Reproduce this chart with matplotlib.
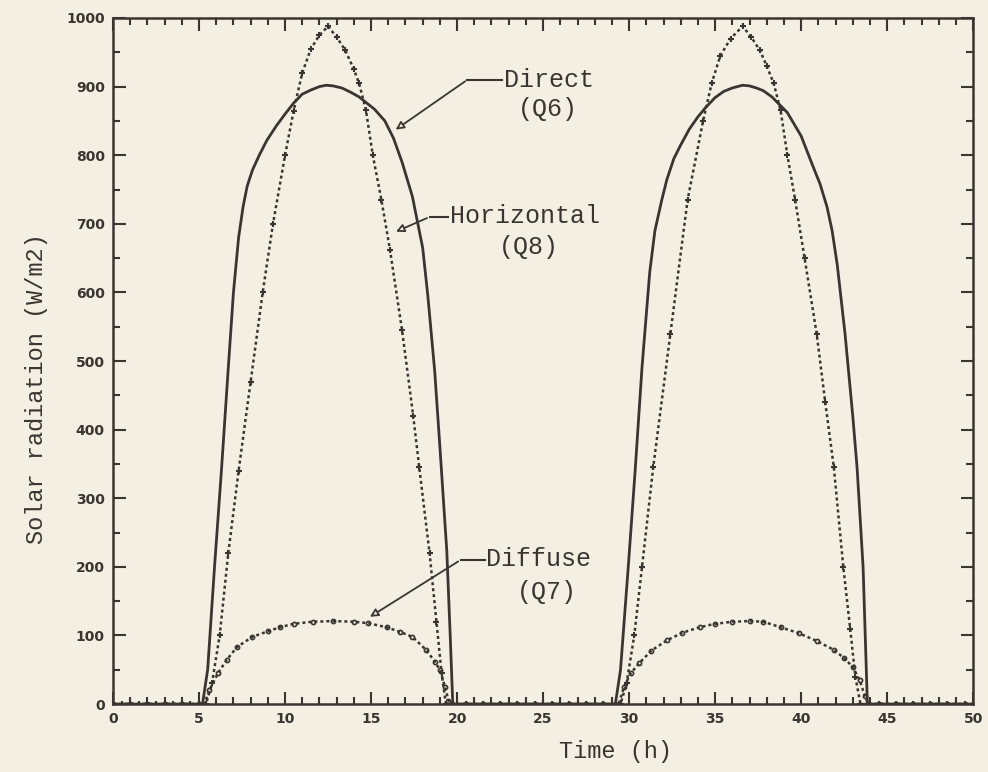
import matplotlib
matplotlib.use("Agg")
import matplotlib.pyplot as plt
from matplotlib.ticker import MultipleLocator

# Direct (Q6) - solid line
t_direct = [0, 5.2, 5.5, 5.9, 6.3, 6.7, 7.0, 7.3, 7.56, 7.8, 8.1, 8.5, 8.95, 9.5, 10.0, 10.5, 11.0,
            11.5, 12.0, 12.4, 12.8, 13.3, 13.8, 14.3, 15.2, 15.8, 16.3, 16.8, 17.4, 18.0, 18.3,
            18.7, 19.0, 19.4, 19.6, 19.75,
            29.2, 29.5, 29.95, 30.35, 30.75, 31.2, 31.5, 31.9, 32.2, 32.6, 33.0, 33.5, 34.0, 34.5,
            35.0, 35.5, 36.0, 36.6, 37.0, 37.4, 37.8, 38.3, 39.2, 40.0, 40.7, 41.1, 41.5, 41.8,
            42.1, 42.55, 43.0, 43.25, 43.6, 43.75, 43.85, 50]
q6_direct = [0, 0, 50, 200, 340, 490, 600, 680, 725, 755, 778, 800, 822, 843, 860, 876, 889,
             895, 900, 902, 901, 898, 892, 885, 867, 850, 825, 790, 740, 665, 595,
             485, 375, 224, 100, 0,
             0, 50, 200, 340, 491, 630, 690, 735, 765, 795, 815, 838, 856, 871,
             884, 893, 898, 902, 901, 898, 894, 885, 862, 828, 783, 758, 725, 690,
             640, 540, 420, 345, 200, 80, 0, 0]

# Horizontal (Q8) - marked dotted line
t_horiz = [0, 0.5, 1, 1.5, 2, 2.5, 3, 3.5, 4, 4.5, 5, 5.4, 5.75, 6.2, 6.7, 7.3, 8.0, 8.7, 9.3,
           10.0, 10.5, 11.0, 11.5, 12.0, 12.5, 13.0, 13.5, 14.0, 14.3, 14.7, 15.1, 15.6, 16.1,
           16.8, 17.45, 17.8, 18.4, 18.8, 19.1, 19.35,
           20, 20.5, 21, 21.5, 22, 22.5, 23, 23.5, 24, 24.5, 25, 25.5, 26, 26.5, 27, 27.5, 28,
           28.5, 29, 29.5, 29.85, 30.3, 30.75, 31.4, 32.4, 33.4, 34.3, 34.8, 35.3, 35.9, 36.6,
           37.1, 37.6, 38.0, 38.4, 38.8, 39.2, 39.65, 40.2, 40.9, 41.4, 41.9, 42.45, 42.85,
           43.15, 43.45, 44, 44.5, 45, 45.5, 46, 46.5, 47, 47.5, 48, 48.5, 49, 49.5, 50]
q8_horiz = [0, 0, 0, 0, 0, 0, 0, 0, 0, 0, 0, 0, 30, 100, 220, 340, 470, 600, 700,
            800, 865, 920, 955, 975, 988, 972, 953, 925, 905, 866, 800, 735, 662,
            545, 420, 345, 220, 120, 45, 0,
            0, 0, 0, 0, 0, 0, 0, 0, 0, 0, 0, 0, 0, 0, 0, 0, 0,
            0, 0, 0, 30, 100, 200, 345, 540, 735, 850, 905, 945, 970, 988,
            972, 953, 930, 905, 866, 800, 735, 650, 540, 440, 345, 200, 110,
            40, 0, 0, 0, 0, 0, 0, 0, 0, 0, 0, 0, 0, 0, 0]

# Diffuse (Q7) - marked dotted line
t_diffuse = [0, 1, 2, 3, 4, 5, 5.3, 5.6, 6.1, 6.6, 7.2, 8.1, 9.0, 9.7, 10.5, 11.6, 12.8, 14.0,
             14.8, 15.9, 16.7, 17.4, 18.2, 18.7, 19.0, 19.3, 19.5, 19.7,
             20.5, 21.5, 22.5, 23.5, 24.5, 25.5, 26.5, 27.5, 28.5, 29.4, 29.7, 30.1, 30.6, 31.3,
             32.2, 33.1, 34.1, 35.0, 36.0, 37.0, 37.8, 38.8, 39.9, 40.9, 41.9, 42.5, 43.0, 43.4,
             43.7, 43.9, 44.5, 45.5, 46.5, 47.5, 48.5, 49.5]
q7_diffuse = [0, 0, 0, 0, 0, 0, 0, 20, 45, 64, 83, 98, 106, 112, 117, 120, 121, 120,
              118, 112, 105, 98, 79, 62, 50, 25, 5, 0,
              0, 0, 0, 0, 0, 0, 0, 0, 0, 0, 25, 45, 60, 78,
              93, 104, 112, 117, 120, 121, 120, 112, 103, 92, 79, 67, 54, 35,
              12, 0, 0, 0, 0, 0, 0, 0]

x_ticks = [0, 5, 10, 15, 20, 25, 30, 35, 40, 45, 50]
y_ticks = [0, 100, 200, 300, 400, 500, 600, 700, 800, 900, 1000]

ink = "#3a3531"
paper = "#f3efe2"
mono = "Liberation Mono"

fig = plt.figure(figsize=(9.88, 7.72), dpi=100, facecolor=paper)
ax = fig.add_axes([0.1144, 0.088, 0.8706, 0.8887], facecolor=paper)

ax.plot(t_direct, q6_direct, color=ink, lw=2.0, solid_joinstyle="round")
ax.plot(t_horiz, q8_horiz, color=ink, lw=1.8, ls=(0, (1.2, 1.2)),
        marker="+", ms=5, mew=1.5)
ax.plot(t_diffuse, q7_diffuse, color=ink, lw=1.8, ls=(0, (1.2, 1.2)),
        marker="o", ms=3, mfc="none", mew=1.2)

ax.set_xlim(0, 50)
ax.set_ylim(0, 1000)
ax.set_xticks(x_ticks)
ax.set_yticks(y_ticks)
ax.xaxis.set_minor_locator(MultipleLocator(1))
ax.yaxis.set_minor_locator(MultipleLocator(50))
ax.tick_params(which="both", direction="in", top=True, right=True, color=ink, width=1.5)
ax.tick_params(which="major", length=9, pad=6)
ax.tick_params(which="minor", length=5)
for lab in ax.get_xticklabels() + ax.get_yticklabels():
    lab.set_fontweight("bold")
    lab.set_fontsize(10)
    lab.set_color(ink)
for sp in ax.spines.values():
    sp.set_linewidth(1.8)
    sp.set_color(ink)

ax.set_xlabel("Time (h)", family=mono, fontsize=17, color=ink)
ax.set_ylabel("Solar radiation (W/m2)", family=mono, fontsize=17, color=ink)
ax.xaxis.set_label_coords(0.584, -0.052)
ax.yaxis.set_label_coords(-0.076, 0.46)

# labels with leader lines
labels = [
    ("Direct", "(Q6)", (16.3, 835), (20.6, 910), (22.7, 910), (25.3, 868)),
    ("Horizontal", "(Q8)", (16.3, 687), (18.4, 710), (19.6, 712), (24.2, 666)),
    ("Diffuse", "(Q7)", (14.8, 125), (20.2, 210), (21.7, 212), (25.2, 163)),
]
for name, code, tip, elbow, txt, code_pos in labels:
    ax.plot([txt[0] - 0.1, elbow[0]], [elbow[1], elbow[1]], color=ink, lw=1.5)
    ax.annotate("", xy=tip, xytext=elbow,
                arrowprops=dict(arrowstyle="-|>", color=ink, lw=1.3,
                                mutation_scale=12, fc=paper))
    ax.text(txt[0], txt[1], name, family=mono, fontsize=18, color=ink,
            ha="left", va="center")
    ax.text(code_pos[0], code_pos[1], code, family=mono, fontsize=18, color=ink,
            ha="center", va="center")

fig.savefig("out.png", dpi=100, facecolor=paper)
